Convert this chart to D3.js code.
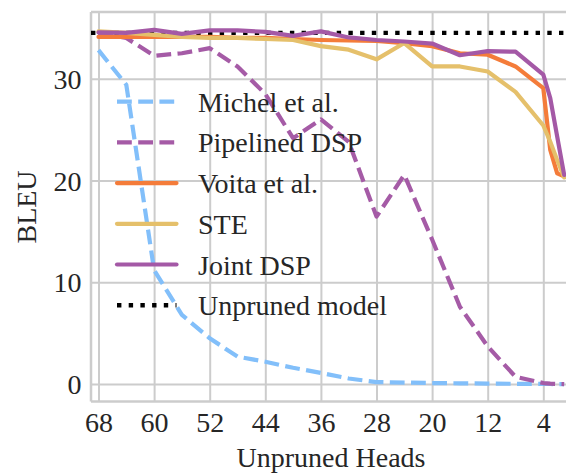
<!DOCTYPE html>
<html>
<head>
<meta charset="utf-8">
<script src="https://cdn.jsdelivr.net/npm/d3@7"></script>
<style>
  html, body { margin: 0; padding: 0; background: #fff; }
  svg { display: block; }
  text { font-family: "Liberation Serif", "Times New Roman", serif; fill: #262626; }
</style>
</head>
<body>
<svg id="chart" width="566" height="475"></svg>
<script>
// ---- data ----
const heads = [68, 64, 60, 56, 52, 48, 44, 40, 36, 32, 28, 24, 20, 16, 12, 8, 4, 3, 2, 1];
const michel = [32.8, 29.4, 11.2, 6.8, 4.5, 2.7, 2.2, 1.6, 1.1, 0.55, 0.2, 0.15, 0.1, 0.08, 0.05, 0.03, 0.02, 0.01, 0.0, 0.0];
const pipelinedDSP = [34.5, 34.0, 32.25, 32.5, 33.0, 31.2, 28.5, 24.15, 26.0, 23.8, 16.45, 20.55, 14.2, 7.6, 3.7, 0.72, 0.1, 0.05, 0.02, 0.0];
const voita = [34.1, 34.1, 34.1, 34.1, 34.1, 34.0, 34.0, 33.9, 33.8, 33.75, 33.7, 33.5, 33.2, 32.5, 32.35, 31.2, 29.07, 23.0, 20.7, 20.4];
const ste = [34.65, 34.5, 34.3, 34.1, 34.0, 34.0, 33.9, 33.8, 33.2, 32.85, 31.9, 33.5, 31.2, 31.2, 30.7, 28.7, 25.4, 23.8, 22.0, 20.3];
const jointDSP = [34.55, 34.5, 34.8, 34.4, 34.75, 34.75, 34.6, 34.2, 34.65, 34.05, 33.8, 33.65, 33.45, 32.3, 32.7, 32.65, 30.4, 28.1, 24.3, 20.55];
const unprunedBLEU = 34.5;
const xTicks = [68, 60, 52, 44, 36, 28, 20, 12, 4];
const yTicks = [0, 10, 20, 30];
const seriesNames = ["Michel et al.", "Pipelined DSP", "Voita et al.", "STE", "Joint DSP", "Unpruned model"];

// ---- layout ----
const svg = d3.select("#chart");
const plot = { left: 91, right: 571.1, top: 12, bottom: 401.5 };
const x = d3.scaleLinear().domain([69.08, 0]).range([plot.left, plot.right]);
const y = d3.scaleLinear().domain([-1.71, 36.55]).range([plot.bottom, plot.top]);
const gridColor = "#cccccc";
const fontSize = 28;

// grid
const gx = svg.append("g").attr("transform", `translate(0,${plot.bottom})`)
  .call(d3.axisBottom(x).tickValues(xTicks).tickSize(-(plot.bottom - plot.top)).tickFormat(d3.format("d")).tickPadding(12));
gx.select(".domain").remove();
gx.selectAll("line").attr("stroke", gridColor).attr("stroke-width", 2);
gx.selectAll("text").attr("font-size", fontSize).attr("fill", "#262626")
  .attr("font-family", "Liberation Serif").attr("dy", null).attr("y", 30.3);

const gy = svg.append("g").attr("transform", `translate(${plot.left},0)`)
  .call(d3.axisLeft(y).tickValues(yTicks).tickSize(-(plot.right - plot.left)).tickFormat(d3.format("d")).tickPadding(9.5));
gy.select(".domain").remove();
gy.selectAll("line").attr("stroke", gridColor).attr("stroke-width", 2);
gy.selectAll("text").attr("font-size", fontSize).attr("fill", "#262626")
  .attr("font-family", "Liberation Serif").attr("dy", "0.34em");

// spines
svg.append("line").attr("x1", plot.left).attr("x2", plot.right).attr("y1", plot.top).attr("y2", plot.top)
  .attr("stroke", gridColor).attr("stroke-width", 2.5);
svg.append("line").attr("x1", plot.left).attr("x2", plot.right).attr("y1", plot.bottom).attr("y2", plot.bottom)
  .attr("stroke", gridColor).attr("stroke-width", 2.5);
svg.append("line").attr("x1", plot.left).attr("x2", plot.left).attr("y1", plot.top).attr("y2", plot.bottom)
  .attr("stroke", gridColor).attr("stroke-width", 2.5);

// series
const lw = 4.2;
const styles = [
  { name: seriesNames[0], values: michel, color: "#82bffa", dash: "14.8,6.4", cap: "butt" },
  { name: seriesNames[1], values: pipelinedDSP, color: "#a55ba6", dash: "14.8,6.4", cap: "butt" },
  { name: seriesNames[2], values: voita, color: "#f47c3a", dash: null, cap: "round" },
  { name: seriesNames[3], values: ste, color: "#e5c06b", dash: null, cap: "round" },
  { name: seriesNames[4], values: jointDSP, color: "#a459a6", dash: null, cap: "round" },
];
const line = d3.line().x(d => x(d[0])).y(d => y(d[1]));

// unpruned reference (drawn underneath)
svg.append("line")
  .attr("x1", plot.left).attr("x2", plot.right)
  .attr("y1", y(unprunedBLEU)).attr("y2", y(unprunedBLEU))
  .attr("stroke", "#000").attr("stroke-width", 4.4).attr("stroke-dasharray", "4.4,7.3");

styles.forEach(s => {
  svg.append("path")
    .datum(heads.map((h, i) => [h, s.values[i]]))
    .attr("d", line)
    .attr("fill", "none")
    .attr("stroke", s.color)
    .attr("stroke-width", lw)
    .attr("stroke-linejoin", "round")
    .attr("stroke-linecap", s.cap)
    .attr("stroke-dasharray", s.dash);
});

// legend
const legendItems = styles.map(s => ({ name: s.name, color: s.color, dash: s.dash, cap: s.cap, w: lw }))
  .concat([{ name: seriesNames[5], color: "#000", dash: "4.4,7.3", cap: "butt", w: 4.4 }]);
const lg = svg.append("g");
legendItems.forEach((it, i) => {
  const yy = 101.7 + i * 40.7;
  lg.append("line").attr("x1", 117).attr("x2", 176.5).attr("y1", yy).attr("y2", yy)
    .attr("stroke", it.color).attr("stroke-width", it.w)
    .attr("stroke-dasharray", it.dash).attr("stroke-linecap", it.cap);
  lg.append("text").attr("x", 198).attr("y", yy + 10).attr("font-size", fontSize).text(it.name);
});

// axis labels
svg.append("text").attr("x", 331).attr("y", 467).attr("text-anchor", "middle")
  .attr("font-size", fontSize).text("Unpruned Heads");
svg.append("text").attr("transform", `translate(36,207) rotate(-90)`).attr("text-anchor", "middle")
  .attr("font-size", fontSize).text("BLEU");
</script>
</body>
</html>
